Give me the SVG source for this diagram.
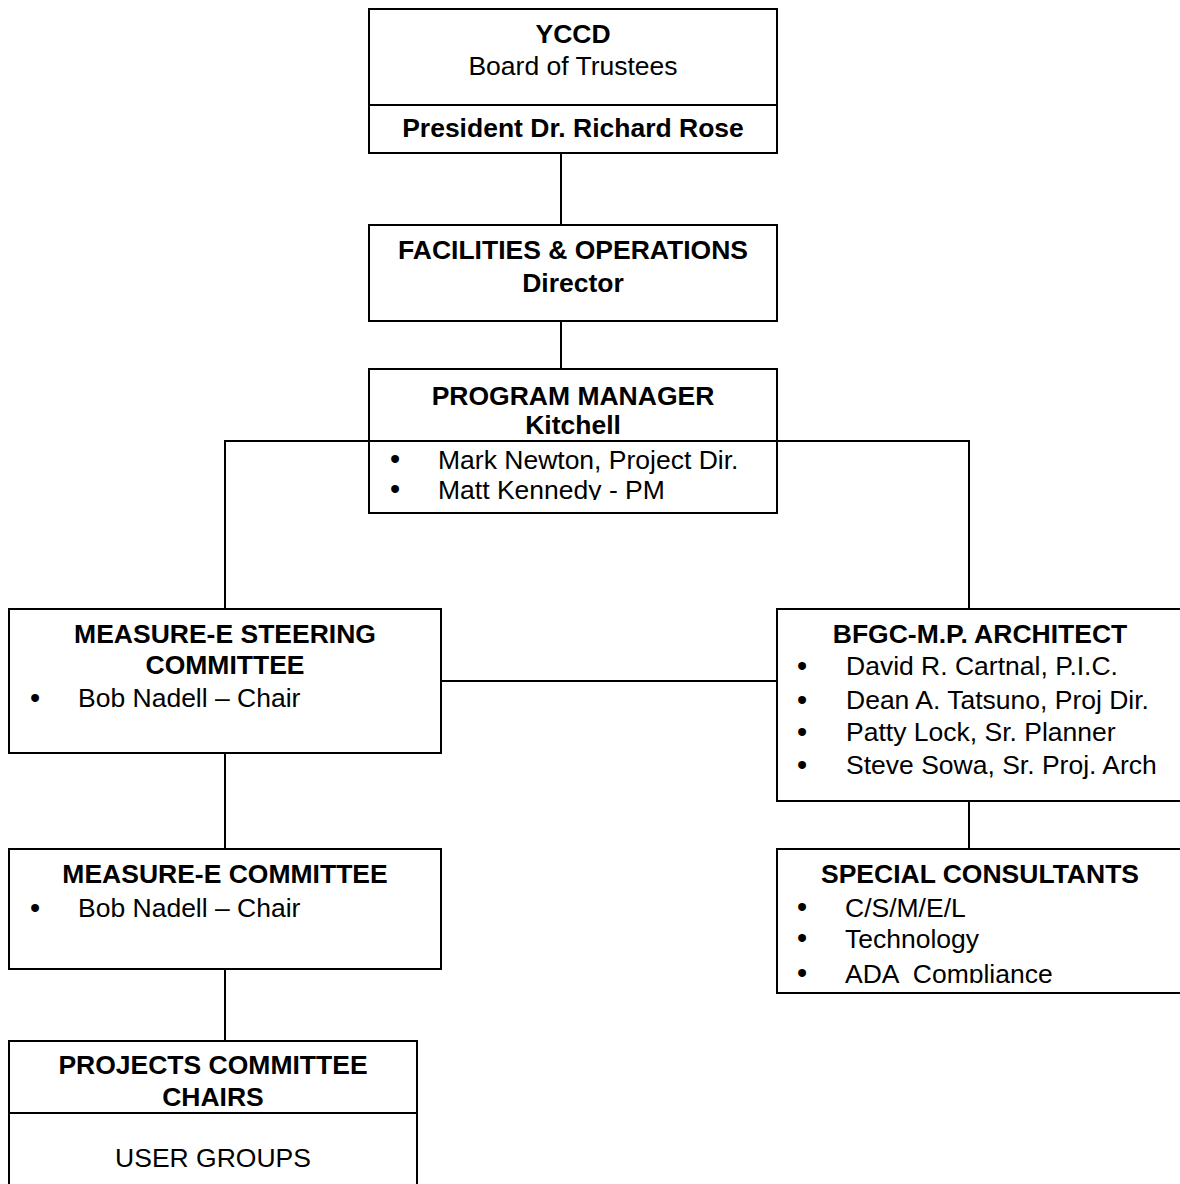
<svg xmlns="http://www.w3.org/2000/svg" width="1180" height="1184" viewBox="0 0 1180 1184">
<style>
.box{fill:#fff;stroke:#000;stroke-width:2}
.ln{fill:none;stroke:#000;stroke-width:2}
text{font-family:"Liberation Sans",Arial,sans-serif;font-size:26.5px;fill:#000}
.b{font-weight:bold}
.c{text-anchor:middle}
.bu{font-size:29px}
</style>
<defs>
<clipPath id="clipPM"><rect x="369" y="369" width="408" height="131"/></clipPath>
<clipPath id="clipSC"><rect x="777" y="849" width="410" height="134"/></clipPath>
</defs>
<rect width="1180" height="1184" fill="#fff"/>
<g id="connectors">
<line class="ln" x1="561" y1="153" x2="561" y2="225"/>
<line class="ln" x1="561" y1="321" x2="561" y2="369"/>
<polyline class="ln" points="225,609 225,441 969,441 969,609"/>
<line class="ln" x1="441" y1="681" x2="777" y2="681"/>
<line class="ln" x1="225" y1="753" x2="225" y2="849"/>
<line class="ln" x1="225" y1="969" x2="225" y2="1041"/>
<line class="ln" x1="969" y1="801" x2="969" y2="849"/>
</g>
<g id="board">
<rect class="box" x="369" y="9" width="408" height="144"/>
<line class="ln" x1="369" y1="105" x2="777" y2="105"/>
<text class="b c" x="573" y="43">YCCD</text>
<text class="c" x="573" y="75">Board of Trustees</text>
<text class="b c" x="573" y="137">President Dr. Richard Rose</text>
</g>
<g id="facilities">
<rect class="box" x="369" y="225" width="408" height="96"/>
<text class="b c" x="573" y="259">FACILITIES &amp; OPERATIONS</text>
<text class="b c" x="573" y="292">Director</text>
</g>
<g id="program-manager">
<rect class="box" x="369" y="369" width="408" height="144"/>
<g clip-path="url(#clipPM)">
<text class="b c" x="573" y="405">PROGRAM MANAGER</text>
<text class="b c" x="573" y="434">Kitchell</text>
<text x="390" y="469"><tspan class="bu">•</tspan><tspan x="438">Mark Newton, Project Dir.</tspan></text>
<text x="390" y="499"><tspan class="bu">•</tspan><tspan x="438">Matt Kennedy - PM</tspan></text>
</g>
</g>
<line class="ln" x1="369" y1="441" x2="777" y2="441"/>
<g id="steering">
<rect class="box" x="9" y="609" width="432" height="144"/>
<text class="b c" x="225" y="643">MEASURE-E STEERING</text>
<text class="b c" x="225" y="674">COMMITTEE</text>
<text x="30" y="707"><tspan class="bu" dy="1">•</tspan><tspan x="78" dy="-1">Bob Nadell – Chair</tspan></text>
</g>
<g id="architect">
<rect class="box" x="777" y="609" width="410" height="192"/>
<text class="b c" x="980" y="643">BFGC-M.P. ARCHITECT</text>
<text x="797" y="675"><tspan class="bu" dy="1">•</tspan><tspan x="846" dy="-1">David R. Cartnal, P.I.C.</tspan></text>
<text x="797" y="709"><tspan class="bu" dy="1">•</tspan><tspan x="846" dy="-1">Dean A. Tatsuno, Proj Dir.</tspan></text>
<text x="797" y="741"><tspan class="bu" dy="1">•</tspan><tspan x="846" dy="-1">Patty Lock, Sr. Planner</tspan></text>
<text x="797" y="774"><tspan class="bu" dy="1">•</tspan><tspan x="846" dy="-1">Steve Sowa, Sr. Proj. Arch</tspan></text>
</g>
<g id="committee">
<rect class="box" x="9" y="849" width="432" height="120"/>
<text class="b c" x="225" y="883">MEASURE-E COMMITTEE</text>
<text x="30" y="917"><tspan class="bu" dy="1">•</tspan><tspan x="78" dy="-1">Bob Nadell – Chair</tspan></text>
</g>
<g id="consultants">
<rect class="box" x="777" y="849" width="410" height="144"/>
<g clip-path="url(#clipSC)">
<text class="b c" x="980" y="883">SPECIAL CONSULTANTS</text>
<text x="797" y="917"><tspan class="bu">•</tspan><tspan x="845">C/S/M/E/L</tspan></text>
<text x="797" y="948"><tspan class="bu">•</tspan><tspan x="845">Technology</tspan></text>
<text x="797" y="983" xml:space="preserve"><tspan class="bu">•</tspan><tspan x="845">ADA  Compliance</tspan></text>
</g>
</g>
<g id="projects">
<rect class="box" x="9" y="1041" width="408" height="160"/>
<line class="ln" x1="9" y1="1113" x2="417" y2="1113"/>
<text class="b c" x="213" y="1074">PROJECTS COMMITTEE</text>
<text class="b c" x="213" y="1106">CHAIRS</text>
<text class="c" x="213" y="1167">USER GROUPS</text>
</g>
</svg>
